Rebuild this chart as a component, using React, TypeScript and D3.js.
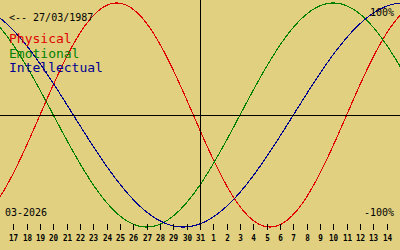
import React from "react";
import * as d3 from "d3";

const birthDate = "1987-03-27";
const todayDate = "2026-03-31";
const cycleNames = ["Physical", "Emotional", "Intellectual"];
const cyclePeriods = [23, 28, 33];
const cycleColors = ["#e00000", "#008000", "#000090"];
const dayLabels = [17, 18, 19, 20, 21, 22, 23, 24, 25, 26, 27, 28, 29, 30, 31, 1, 2, 3, 4, 5, 6, 7, 8, 9, 10, 11, 12, 13, 14];
const monthLabel = "03-2026";
const birthLabel = "<-- 27/03/1987";

const W = 400;
const H = 250;
const MS_DAY = 86400000;

export default function App() {
  const daysSinceBirth = Math.round(
    (Date.parse(todayDate + "T00:00:00Z") - Date.parse(birthDate + "T00:00:00Z")) / MS_DAY
  );
  const x = d3.scaleLinear().domain([-15, 15]).range([0, W]);
  const y = d3.scaleLinear().domain([-1, 1]).range([227, 3]);
  const offsets = d3.range(-15, 15.001, 0.05);
  const mono = "'DejaVu Sans Mono', monospace";
  return (
    <svg
      width={W}
      height={H}
      style={{ position: "absolute", left: 0, top: 0, background: "#e0d080" }}
    >
      <rect x={0} y={0} width={W} height={H} fill="#e0d080" />
      {cyclePeriods.map((p, i) => {
        const pts = offsets.map((o) => [o, Math.sin((2 * Math.PI * (daysSinceBirth + o)) / p)] as [number, number]);
        const l = d3
          .line<[number, number]>()
          .x((d) => x(d[0]))
          .y((d) => y(d[1]));
        return (
          <path
            key={cycleNames[i]}
            d={l(pts) || ""}
            fill="none"
            stroke={cycleColors[i]}
            strokeWidth={1.1}
            shapeRendering="crispEdges"
          />
        );
      })}
      <line x1={0} x2={W} y1={115.5} y2={115.5} stroke="#000" strokeWidth={1} />
      <line x1={x(0) + 0.5} x2={x(0) + 0.5} y1={0} y2={230} stroke="#000" strokeWidth={1} />
      {dayLabels.map((lab, i) => {
        const o = i - 14;
        const xx = Math.round(x(o));
        const s = String(lab);
        return (
          <g key={i}>
            <line x1={xx + 0.5} x2={xx + 0.5} y1={224} y2={230} stroke="#000" strokeWidth={1} />
            <text
              x={xx + 0.5}
              y={241}
              textAnchor="middle"
              fontFamily={mono}
              fontSize={9}
              fontWeight="bold"
              fill="#000"
              textLength={s.length * 4.6}
              lengthAdjust="spacingAndGlyphs"
            >
              {s}
            </text>
          </g>
        );
      })}
      <text x={9} y={21} fontFamily={mono} fontSize={10} fill="#000">
        {birthLabel}
      </text>
      {cycleNames.map((n, i) => (
        <text key={n} x={9} y={43 + i * 14.5} fontFamily={mono} fontSize={13} fill={cycleColors[i]}>
          {n}
        </text>
      ))}
      <text x={394} y={16} textAnchor="end" fontFamily={mono} fontSize={10} fill="#000">
        100%
      </text>
      <text x={394} y={216} textAnchor="end" fontFamily={mono} fontSize={10} fill="#000">
        -100%
      </text>
      <text x={5} y={216} fontFamily={mono} fontSize={10} fill="#000">
        {monthLabel}
      </text>
    </svg>
  );
}
